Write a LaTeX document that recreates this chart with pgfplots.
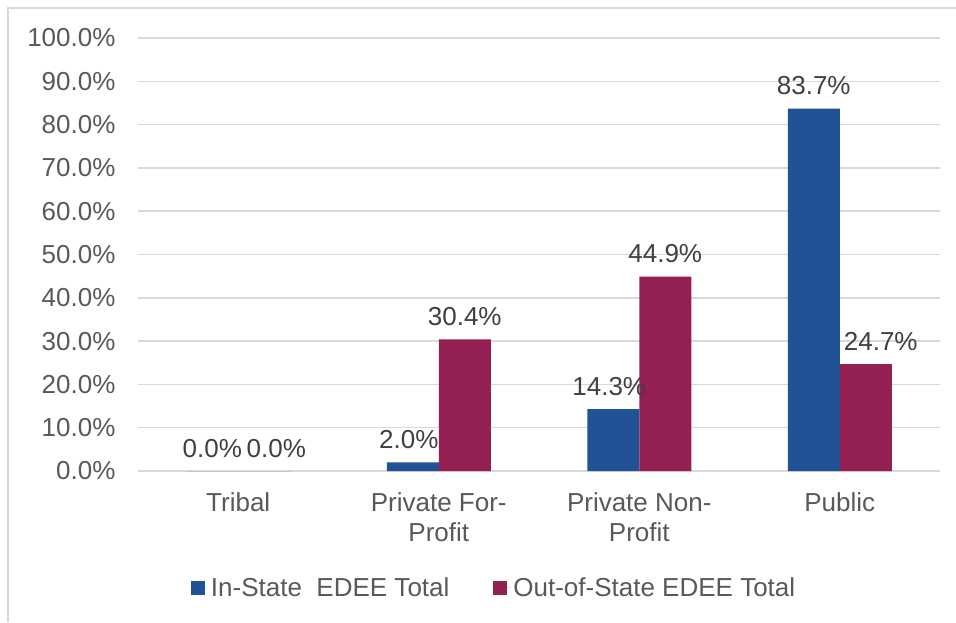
\documentclass[border=0pt]{standalone}
\usepackage{pgfplots}
\pgfplotsset{compat=1.18}
\usepackage{fontspec}
\setmainfont{Liberation Sans}
\definecolor{blueS}{RGB}{33,82,149}
\definecolor{redS}{RGB}{148,31,82}
\definecolor{gridc}{RGB}{217,217,217}
\definecolor{txt}{RGB}{89,89,89}
\definecolor{lbl}{RGB}{64,64,64}
\begin{document}
\begin{tikzpicture}
\path[use as bounding box] (0,0) rectangle (956pt,622pt);
\draw[gridc, line width=1.5pt] (8pt,0) -- (8pt,614pt) -- (956pt,614pt);
\begin{axis}[
  at={(138pt,151pt)}, anchor=south west,
  scale only axis, width=802pt, height=433pt,
  ybar=0pt, bar width=52pt,
  xmin=-0.5, xmax=3.5, ymin=0, ymax=100,
  xtick={0,1,2,3},
  xticklabels={Tribal, {Private For-\\Profit}, {Private Non-\\Profit}, Public},
  xticklabel style={align=center, text=txt, font=\fontsize{26}{30}\selectfont, yshift=-18pt},
  ytick={0,10,...,100},
  yticklabel={\pgfmathprintnumber[fixed,fixed zerofill,precision=1]{\tick}\%},
  yticklabel style={text=txt, font=\fontsize{26}{30}\selectfont, xshift=-19pt},
  /pgf/number format/assume math mode=true,
  ymajorgrids, grid style={gridc, line width=1.5pt},
  major tick length=0pt,
  axis y line*=left, y axis line style={draw=none},
  axis x line*=bottom, x axis line style={gridc, line width=1.5pt},
  visualization depends on={x \as \xv},
  nodes near coords={\pgfmathprintnumber[fixed,fixed zerofill,precision=1]{\pgfplotspointmeta}\%},
  nodes near coords style={text=lbl, font=\fontsize{26}{30}\selectfont, yshift=10pt},
  legend columns=2,
  legend style={draw=none, fill=none, at={(0.444,-0.270)}, anchor=center,
    font=\fontsize{26}{30}\selectfont, text=txt,
    /tikz/every even column/.append style={column sep=42pt}},
  legend image code/.code={\fill[#1] (0pt,-7pt) rectangle (14pt,7pt); \path (0pt,0pt) -- (18pt,0pt);},
]
\addplot[fill=blueS, draw=none,
  every node near coord/.append style={xshift={-4*(\xv==1)-4*(\xv==2)}}]
  coordinates {(0,0) (1,2.0) (2,14.3) (3,83.7)};
\addplot[fill=redS, draw=none,
  every node near coord/.append style={xshift={12*(\xv==0)+15*(\xv==3)}}]
  coordinates {(0,0) (1,30.4) (2,44.9) (3,24.7)};
\legend{In-State\ \ EDEE Total, Out-of-State EDEE Total}
\end{axis}
\end{tikzpicture}
\end{document}
